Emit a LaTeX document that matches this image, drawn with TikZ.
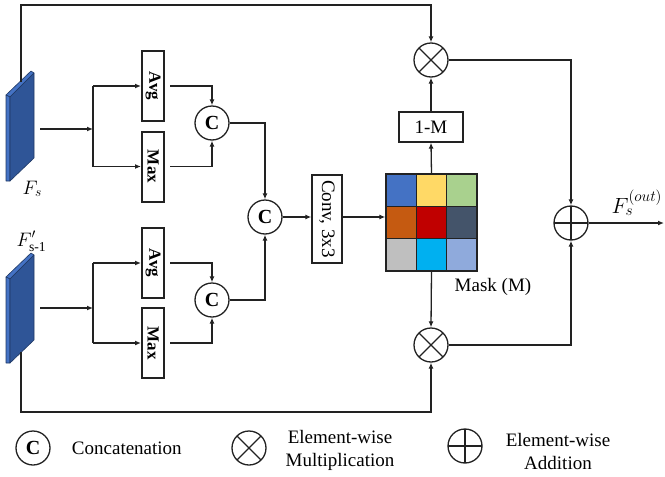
\RequirePackage{fix-cm}
\documentclass[tikz,border=0pt]{standalone}
\usepackage{amsmath}
\usepackage{fontspec}
\setmainfont{Liberation Serif}
\usetikzlibrary{arrows.meta}
\definecolor{ln}{HTML}{222222}
\definecolor{slabfront}{HTML}{2F5597}
\definecolor{slabside}{HTML}{4472C4}
\definecolor{slabedge}{HTML}{1F3864}
\definecolor{m11}{HTML}{4472C4}
\definecolor{m12}{HTML}{FFD966}
\definecolor{m13}{HTML}{A9D18E}
\definecolor{m21}{HTML}{C55A11}
\definecolor{m22}{HTML}{C00000}
\definecolor{m23}{HTML}{44546A}
\definecolor{m31}{HTML}{BFBFBF}
\definecolor{m32}{HTML}{00B0F0}
\definecolor{m33}{HTML}{8FAADC}
\begin{document}
\begin{tikzpicture}[x=1pt,y=-1pt,line width=1.3pt,draw=ln,
  >={Latex[length=6pt,width=5pt]},
  font=\fontsize{19}{23}\selectfont,
  op/.style={circle,draw=ln,minimum size=34pt,inner sep=0pt,line width=1.3pt},
  cat/.style={op,font=\fontsize{20}{20}\selectfont\bfseries},
  mul/.style={op,path picture={\draw[ln,line width=1.3pt]
     (path picture bounding box.south west) -- (path picture bounding box.north east)
     (path picture bounding box.north west) -- (path picture bounding box.south east);}},
  add/.style={op,path picture={\draw[ln,line width=1.3pt]
     (path picture bounding box.north) -- (path picture bounding box.south)
     (path picture bounding box.west) -- (path picture bounding box.east);}},
  pool/.style={draw=ln,line width=2pt,minimum width=22pt,minimum height=70pt,inner sep=0pt,
     font=\fontsize{17}{17}\selectfont\bfseries},
  convbox/.style={draw=ln,line width=1.3pt,minimum width=30pt,minimum height=88pt,inner sep=0pt},
  onembox/.style={draw=ln,line width=1.3pt,minimum width=64pt,minimum height=30pt,inner sep=0pt},
  slab/.style={draw=slabedge,line width=0.6pt,line join=round}
]
\useasboundingbox (0,0) rectangle (665,477);

% ---- slabs ----
\foreach \dy in {0,182}{
  \begin{scope}[yshift=-\dy pt]
  \filldraw[slab,fill=slabside] (6,95) -- (31,71) -- (34,73) -- (10,97) -- cycle;
  \filldraw[slab,fill=slabside] (6,95) -- (10,97) -- (10,181) -- (6,181) -- cycle;
  \filldraw[slab,fill=slabfront] (10,97) -- (34,73) -- (34,158) -- (10,181) -- cycle;
  \end{scope}
}
\coordinate (fstop) at (21,82);
\coordinate (fsout) at (40,129);
\coordinate (fpbot) at (21,352);
\coordinate (fpout) at (40,308);
\coordinate (topy) at (21,5);
\coordinate (boty) at (21,412);
\coordinate (br1) at (93,129);
\coordinate (br2) at (93,308);

\node[anchor=base west,inner sep=0pt,font=\fontsize{19.5}{20}\selectfont] (lfs) at (22,194) {$F_s$};
\node[anchor=base west,inner sep=0pt,font=\fontsize{19.5}{20}\selectfont] (lfp) at (16,246) {$F'_{\text{s-1}}$};

% ---- pooling boxes ----
\node[pool] (avg1) at (153,86) {\rotatebox{-90}{Avg}};
\node[pool] (max1) at (153,166.5) {\rotatebox{-90}{Max}};
\node[pool] (avg2) at (153,263) {\rotatebox{-90}{Avg}};
\node[pool] (max2) at (153,343) {\rotatebox{-90}{Max}};

\node[cat] (c1) at (212,123) {C};
\node[cat] (c2) at (212,300) {C};
\node[cat] (c3) at (265,217) {C};

\node[convbox] (conv) at (327,219) {\rotatebox{-90}{Conv, 3x3}};

% ---- mask ----
\node[minimum width=91pt,minimum height=97pt,inner sep=0pt] (mask) at (431.5,222.5) {};
\def\cw{30.333}\def\ch{32.333}
\foreach \r/\cola/\colb/\colc in {0/m11/m12/m13,1/m21/m22/m23,2/m31/m32/m33}{
  \fill[\cola] (386,{174+\r*\ch}) rectangle ({386+\cw},{174+(\r+1)*\ch});
  \fill[\colb] ({386+\cw},{174+\r*\ch}) rectangle ({386+2*\cw},{174+(\r+1)*\ch});
  \fill[\colc] ({386+2*\cw},{174+\r*\ch}) rectangle (477,{174+(\r+1)*\ch});
}
\foreach \i in {1,2}{
  \draw[line width=1.5pt,draw=ln] ({386+\i*\cw},174) -- ({386+\i*\cw},271);
  \draw[line width=1.5pt,draw=ln] (386,{174+\i*\ch}) -- (477,{174+\i*\ch});
}
\draw[line width=1.5pt,draw=ln] (386,174) rectangle (477,271);
\node (mlbl) at (493,287) {Mask (M)};

\node[onembox] (onem) at (431,127) {1-M};
\node[mul] (mulT) at (431,60) {};
\node[mul] (mulB) at (431,345) {};
\node[add] (addn) at (571,223) {};
\coordinate (outend) at (664,223);
\node[anchor=base west,inner sep=0pt,font=\fontsize{22}{22}\selectfont] (lout) at (611,213) {$F_s^{(out)}$};

% ---- connectors ----
\draw[->] (fstop) -- (topy) -| (mulT.north);
\draw[->] (fpbot) -- (boty) -| (mulB.south);
\draw[->] (fsout) -- (br1);
\draw[->] (fpout) -- (br2);
\draw (br1 |- avg1.west) -- (br1 |- max1.west);
\draw (br2 |- avg2.west) -- (br2 |- max2.west);
\draw[->] (br1 |- avg1.west) -- (avg1.west);
\draw[->] (br1 |- max1.west) -- (max1.west);
\draw[->] (br2 |- avg2.west) -- (avg2.west);
\draw[->] (br2 |- max2.west) -- (max2.west);
\draw[->,shorten <=5pt] (avg1.east) -| (c1.north);
\draw[->,shorten <=5pt] (max1.east) -| (c1.south);
\draw[->,shorten <=5pt] (avg2.east) -| (c2.north);
\draw[->,shorten <=5pt] (max2.east) -| (c2.south);
\draw[->] (c1.east) -| (c3.north);
\draw[->] (c2.east) -| (c3.south);
\draw[->] (c3.east) -- (c3.east -| conv.west);
\coordinate (convout) at (conv.east |- c3.east);
\draw[->] (convout) -- (convout -| mask.west);
\draw[->] (mask.north) -- (onem.south);
\draw[->] (onem.north) -- (mulT.south);
\draw[->] (mask.south) -- (mulB.north);
\draw[->] (mulT.east) -| (addn.north);
\draw[->] (mulB.east) -| (addn.south);
\draw[->] (addn.east) -- (outend);

% ---- legend ----
\node[cat] (lgc) at (33,448) {C};
\node[anchor=west] (lgct) at (68,448) {Concatenation};
\node[mul] (lgm) at (249,448) {};
\node[align=center] (lgmt) at (340,450) {Element-wise\\Multiplication};
\node[add] (lga) at (465,446) {};
\node[align=center] (lgat) at (558,451) {Element-wise\\Addition};
\end{tikzpicture}
\end{document}
